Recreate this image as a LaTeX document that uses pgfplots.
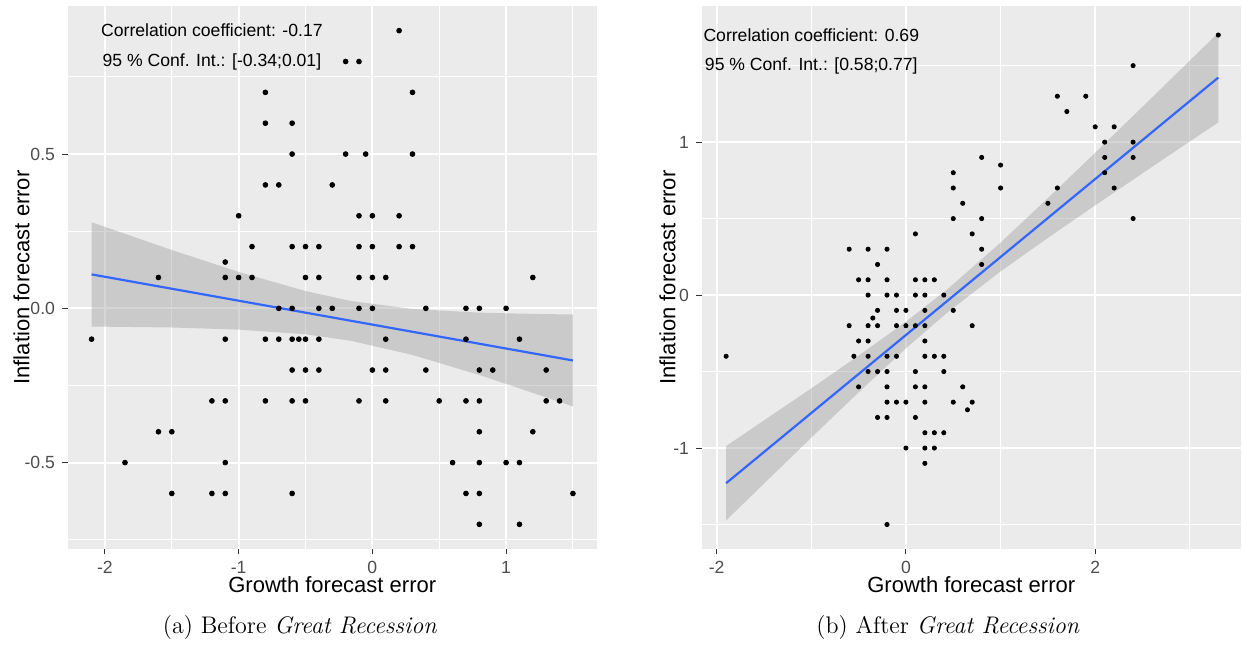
\documentclass[border=0pt]{standalone}
\usepackage{fontspec}
\usepackage{pgfplots}
\pgfplotsset{compat=1.18}
\newfontfamily\arial{Liberation Sans}
\definecolor{panelbg}{HTML}{EBEBEB}
\definecolor{grey60}{HTML}{999999}
\definecolor{grey30}{HTML}{4D4D4D}
\definecolor{grey20}{HTML}{333333}
\definecolor{smoothblue}{HTML}{3366FF}

\pgfplotsset{
  ggpanel/.style={
    anchor=south west, scale only axis,
    axis background/.style={fill=panelbg},
    axis line style={draw=none},
    grid=both,
    major grid style={white, line width=1.07pt},
    minor grid style={white, line width=0.53pt},
    tick pos=left, tick align=outside,
    major tick length=2.75pt, minor tick length=0pt,
    tick style={grey20, line width=0.5pt},
    ticklabel style={font=\arial\fontsize{8.8}{10}\selectfont, text=grey30},
    label style={font=\arial\fontsize{11}{13}\selectfont, text=black},
    clip=false,
  },
  pts/.style={only marks, mark=*, mark size=1.2pt, black},
  band/.style={fill=grey60, fill opacity=0.4, draw=none},
  fit/.style={smoothblue, line width=1.1pt, no marks},
}

\begin{document}
\begin{tikzpicture}
\path[use as bounding box] (0,0) rectangle (621pt,323pt);

% (a) before
\begin{axis}[ggpanel,
  at={(33.75pt,48.5pt)}, width=264.75pt, height=271.5pt,
  xmin=-2.28, xmax=1.68, ymin=-0.78, ymax=0.98,
  xtick={-2,-1,0,1}, xticklabels={-2,-1,0,1},
  minor xtick={-1.5,-0.5,0.5,1.5},
  ytick={-0.5,0,0.5}, yticklabels={-0.5,0.0,0.5},
  minor ytick={-0.75,-0.25,0.25,0.75},
  xlabel={Growth forecast error}, ylabel={Inflation forecast error},
  xlabel style={at={(axis description cs:0.5,-0.066)}, anchor=center},
  ylabel style={at={(axis description cs:-0.087,0.5)}, anchor=center},
]
\addplot[pts] coordinates {
(0.2,0.9) (-0.2,0.8) (-0.1,0.8) (-0.8,0.7) (0.3,0.7) (-0.8,0.6) (-0.6,0.6)
(-0.6,0.5) (-0.2,0.5) (-0.05,0.5) (0.3,0.5) (-0.8,0.4) (-0.7,0.4) (-0.3,0.4)
(-1.0,0.3) (-0.1,0.3) (0,0.3) (0.2,0.3)
(-0.9,0.2) (-0.6,0.2) (-0.5,0.2) (-0.4,0.2) (-0.1,0.2) (0,0.2) (0.2,0.2) (0.3,0.2)
(-1.1,0.15)
(-1.6,0.1) (-1.1,0.1) (-1.0,0.1) (-0.9,0.1) (-0.5,0.1) (-0.4,0.1) (-0.1,0.1) (0,0.1) (0.1,0.1) (1.2,0.1)
(-0.7,0) (-0.6,0) (-0.4,0) (-0.3,0) (-0.1,0) (0,0) (0.4,0) (0.7,0) (0.8,0) (1.0,0)
(-2.1,-0.1) (-1.1,-0.1) (-0.8,-0.1) (-0.7,-0.1) (-0.6,-0.1) (-0.55,-0.1) (-0.5,-0.1) (-0.4,-0.1) (0.1,-0.1) (0.7,-0.1) (1.1,-0.1)
(-0.6,-0.2) (-0.5,-0.2) (-0.4,-0.2) (0,-0.2) (0.1,-0.2) (0.4,-0.2) (0.8,-0.2) (0.9,-0.2) (1.3,-0.2)
(-1.2,-0.3) (-1.1,-0.3) (-0.8,-0.3) (-0.6,-0.3) (-0.5,-0.3) (-0.1,-0.3) (0.1,-0.3) (0.5,-0.3) (0.7,-0.3) (0.8,-0.3) (1.3,-0.3) (1.4,-0.3)
(-1.6,-0.4) (-1.5,-0.4) (0.8,-0.4) (1.2,-0.4)
(-1.85,-0.5) (-1.1,-0.5) (0.6,-0.5) (0.8,-0.5) (1.0,-0.5) (1.1,-0.5)
(-1.5,-0.6) (-1.2,-0.6) (-1.1,-0.6) (-0.6,-0.6) (0.7,-0.6) (0.8,-0.6) (1.5,-0.6)
(0.8,-0.7) (1.1,-0.7)
};
% confidence band: upper edge left to right, lower edge back
\addplot[band] coordinates {
(-2.1,0.279) (-1.5,0.189) (-1,0.118) (-0.5,0.056) (-0.164,0.024) (0.3,-0.002) (0.8,-0.014) (1.2,-0.018) (1.5,-0.020)
(1.5,-0.318) (1.2,-0.274) (0.8,-0.216) (0.3,-0.151) (-0.164,-0.105) (-0.5,-0.084) (-1,-0.069) (-1.5,-0.062) (-2.1,-0.059)
};
\addplot[fit] coordinates {(-2.1,0.110) (1.5,-0.169)};
\node[font=\arial\fontsize{8.8}{10}\selectfont] at (axis cs:-1.2,0.9) {Correlation coefficient: -0.17};
\node[font=\arial\fontsize{8.8}{10}\selectfont] at (axis cs:-1.2,0.8) {95 \% Conf. Int.: [-0.34;0.01]};
\end{axis}

% (b) after
\begin{axis}[ggpanel,
  at={(350.75pt,48.5pt)}, width=269.75pt, height=271.5pt,
  xmin=-2.16, xmax=3.54, ymin=-1.66, ymax=1.89,
  xtick={-2,0,2}, xticklabels={-2,0,2},
  minor xtick={-1,1,3},
  ytick={-1,0,1}, yticklabels={-1,0,1},
  minor ytick={-1.5,-0.5,0.5,1.5},
  xlabel={Growth forecast error}, ylabel={Inflation forecast error},
  xlabel style={at={(axis description cs:0.5,-0.066)}, anchor=center},
  ylabel style={at={(axis description cs:-0.063,0.5)}, anchor=center},
]
\addplot[pts, mark size=1.05pt] coordinates {
(3.3,1.7) (2.4,1.5) (1.6,1.3) (1.9,1.3) (1.7,1.2) (2.0,1.1) (2.2,1.1) (2.1,1.0) (2.4,1.0)
(0.8,0.9) (2.1,0.9) (2.4,0.9) (1.0,0.85) (2.1,0.8) (0.5,0.8)
(0.5,0.7) (1.0,0.7) (1.6,0.7) (2.2,0.7) (0.6,0.6) (1.5,0.6) (0.5,0.5) (0.8,0.5) (2.4,0.5)
(0.1,0.4) (0.7,0.4) (-0.6,0.3) (-0.4,0.3) (-0.2,0.3) (0.8,0.3) (-0.3,0.2) (0.8,0.2)
(-0.5,0.1) (-0.4,0.1) (-0.2,0.1) (0.1,0.1) (0.2,0.1) (0.3,0.1)
(-0.4,0) (-0.2,0) (-0.1,0) (0.1,0) (0.2,0) (0.4,0)
(-0.3,-0.1) (-0.1,-0.1) (0,-0.1) (0.2,-0.1) (0.5,-0.1) (-0.35,-0.15)
(-0.6,-0.2) (-0.4,-0.2) (-0.3,-0.2) (-0.1,-0.2) (0,-0.2) (0.1,-0.2) (0.2,-0.2) (0.7,-0.2)
(-0.5,-0.3) (-0.4,-0.3) (0.2,-0.3)
(-1.9,-0.4) (-0.55,-0.4) (-0.4,-0.4) (-0.2,-0.4) (-0.1,-0.4) (0.2,-0.4) (0.3,-0.4) (0.4,-0.4)
(-0.4,-0.5) (-0.3,-0.5) (-0.2,-0.5) (0.1,-0.5) (0.4,-0.5)
(-0.5,-0.6) (-0.2,-0.6) (0.1,-0.6) (0.2,-0.6) (0.6,-0.6)
(-0.2,-0.7) (-0.1,-0.7) (0,-0.7) (0.2,-0.7) (0.5,-0.7) (0.7,-0.7) (0.65,-0.75)
(-0.3,-0.8) (-0.2,-0.8) (0.1,-0.8) (0.2,-0.9) (0.3,-0.9) (0.4,-0.9)
(0,-1) (0.2,-1) (0.3,-1) (0.2,-1.1) (-0.2,-1.5)
};
\addplot[band] coordinates {
(-1.9,-0.987) (-1,-0.610) (-0.5,-0.396) (0,-0.174) (0.436,0.037) (1,0.343) (1.5,0.634) (2,0.931) (2.7,1.352) (3.3,1.715)
(3.3,1.129) (2.7,0.880) (2,0.587) (1.5,0.374) (1,0.155) (0.436,-0.115) (0,-0.348) (-0.5,-0.636) (-1,-0.932) (-1.9,-1.473)
};
\addplot[fit] coordinates {(-1.9,-1.230) (3.3,1.422)};
\node[font=\arial\fontsize{8.8}{10}\selectfont] at (axis cs:-1,1.7) {Correlation coefficient: 0.69};
\node[font=\arial\fontsize{8.8}{10}\selectfont] at (axis cs:-1,1.5) {95 \% Conf. Int.: [0.58;0.77]};
\end{axis}

\node[font=\fontsize{12}{14}\selectfont] at (150pt,9pt) {(a) Before \textit{Great Recession}};
\node[font=\fontsize{12}{14}\selectfont] at (474pt,9pt) {(b) After \textit{Great Recession}};
\end{tikzpicture}
\end{document}
